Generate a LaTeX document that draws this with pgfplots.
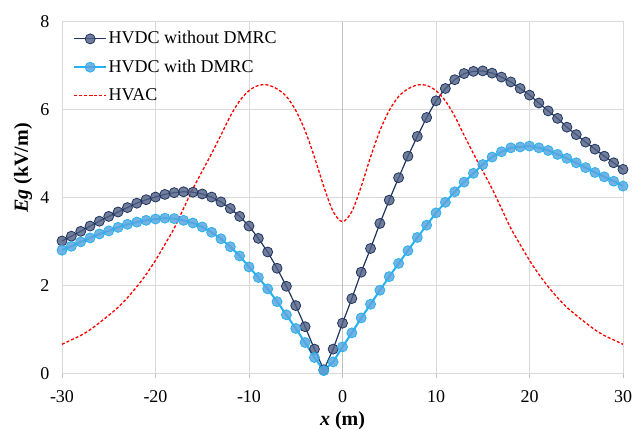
\documentclass[border=0pt]{standalone}
\usepackage{pgfplots}
\pgfplotsset{compat=1.18}
\usepackage{fontspec}
\setmainfont{Liberation Serif}
\definecolor{navyline}{RGB}{31,52,96}
\definecolor{navyfill}{RGB}{78,94,130}
\definecolor{skyline}{RGB}{38,178,240}
\definecolor{skyfill}{RGB}{92,166,222}
\definecolor{gridc}{RGB}{217,217,217}
\definecolor{axisc}{RGB}{191,191,191}
\begin{document}
\begin{tikzpicture}
\begin{axis}[
  name=ax,
  scale only axis, width=561pt, height=351.6pt,
  xmin=-30, xmax=30, ymin=0, ymax=8,
  xtick={-30,-20,...,30}, ytick={0,2,4,6,8},
  grid=major, grid style={draw=gridc, line width=0.9pt},
  axis line style={draw=gridc, line width=0.9pt},
  xtick pos=bottom, ytick pos=left,
  tick align=outside, major tick length=5pt,
  ytick style={draw=none},
  xtick style={draw=axisc, line width=0.9pt},
  extra x ticks={0}, extra x tick labels={},
  extra x tick style={grid style={draw=axisc, line width=1pt}, major tick length=0pt},
  ticklabel style={font=\fontsize{18}{18}\selectfont, text=black},
  /pgf/number format/assume math mode=true,
  xticklabel style={yshift=-9pt},
  yticklabel style={xshift=-4pt},
  every axis y label/.style={at={(rel axis cs:0,0.584)}, xshift=-39pt, rotate=90, anchor=center, font=\fontsize{20}{20}\selectfont},
  every axis x label/.style={at={(rel axis cs:0.5,0)}, anchor=center, yshift=-47pt, font=\fontsize{20}{20}\selectfont},
  ylabel={\textbf{\textit{Eg} (kV/m)}},
  xlabel={\textbf{\textit{x} (m)}},
  legend image code/.code={\draw[mark repeat=2,mark phase=2] plot coordinates {(0pt,0pt) (16pt,0pt) (32pt,0pt)};},
  legend style={draw=none, fill=none, at={(rel axis cs:0,1)}, anchor=north west, xshift=8pt, yshift=-8pt,
    font=\fontsize{18}{18}\selectfont, row sep=14.3pt, column sep=1.5pt,
    nodes={inner sep=0pt, text height=12pt, text depth=2pt}},
  legend cell align=left,
]
\addplot[navyline, line width=1.2pt, mark=*, mark size=5pt,
  mark options={fill=navyfill, fill opacity=0.8, draw=navyline, line width=0.8pt}] coordinates {
(-30,3.01) (-29,3.12) (-28,3.23) (-27,3.35) (-26,3.46) (-25,3.57) (-24,3.67) (-23,3.77) (-22,3.87) (-21,3.95)
(-20,4.01) (-19,4.07) (-18,4.11) (-17,4.13) (-16,4.12) (-15,4.08) (-14,4.01) (-13,3.90) (-12,3.75) (-11,3.57)
(-10,3.35) (-9,3.07) (-8,2.76) (-7,2.39) (-6,1.98) (-5,1.54) (-4,1.06) (-3,0.55) (-2,0.08) (-1,0.55)
(0,1.14) (1,1.70) (2,2.30) (3,2.84) (4,3.41) (5,3.94) (6,4.45) (7,4.94) (8,5.39) (9,5.82)
(10,6.20) (11,6.48) (12,6.68) (13,6.82) (14,6.87) (15,6.88) (16,6.83) (17,6.74) (18,6.63) (19,6.48)
(20,6.33) (21,6.15) (22,5.97) (23,5.80) (24,5.60) (25,5.43) (26,5.26) (27,5.10) (28,4.94) (29,4.79) (30,4.64)};
\addlegendentry{HVDC without DMRC}
\addplot[skyline, line width=2pt, mark=*, mark size=5pt,
  mark options={fill=skyfill, fill opacity=0.85, draw=skyline, line width=0.8pt}] coordinates {
(-30,2.80) (-29,2.89) (-28,2.99) (-27,3.08) (-26,3.17) (-25,3.24) (-24,3.32) (-23,3.39) (-22,3.44) (-21,3.48)
(-20,3.51) (-19,3.53) (-18,3.52) (-17,3.48) (-16,3.42) (-15,3.33) (-14,3.21) (-13,3.06) (-12,2.88) (-11,2.67)
(-10,2.42) (-9,2.18) (-8,1.92) (-7,1.63) (-6,1.33) (-5,1.02) (-4,0.70) (-3,0.36) (-2,0.06) (-1,0.26)
(0,0.60) (1,0.92) (2,1.26) (3,1.57) (4,1.89) (5,2.20) (6,2.50) (7,2.79) (8,3.09) (9,3.37)
(10,3.65) (11,3.89) (12,4.13) (13,4.35) (14,4.55) (15,4.75) (16,4.92) (17,5.04) (18,5.13) (19,5.15)
(20,5.17) (21,5.13) (22,5.07) (23,4.98) (24,4.89) (25,4.79) (26,4.68) (27,4.57) (28,4.47) (29,4.37) (30,4.26)};
\addlegendentry{HVDC with DMRC}
\addplot[red, line width=1.3pt, dash pattern=on 3pt off 2pt, smooth, no marks] coordinates {
(-30,0.66) (-29,0.76) (-28,0.86) (-27,0.99) (-26,1.15) (-25,1.32) (-24,1.50) (-23,1.72) (-22,1.97) (-21,2.25)
(-20,2.57) (-19,2.93) (-18,3.30) (-17,3.75) (-16,4.20) (-15,4.60) (-14,5.00) (-13,5.42) (-12,5.85) (-11,6.20)
(-10,6.43) (-9,6.55) (-8,6.56) (-7,6.47) (-6,6.30) (-5,5.98) (-4,5.52) (-3,4.92) (-2,4.25) (-1,3.68)
(0,3.45) (1,3.68) (2,4.25) (3,4.92) (4,5.52) (5,5.98) (6,6.30) (7,6.47) (8,6.56) (9,6.55)
(10,6.43) (11,6.20) (12,5.85) (13,5.42) (14,5.00) (15,4.60) (16,4.20) (17,3.75) (18,3.30) (19,2.93)
(20,2.57) (21,2.25) (22,1.97) (23,1.72) (24,1.50) (25,1.32) (26,1.15) (27,0.99) (28,0.86) (29,0.76) (30,0.66)};
\addlegendentry{HVAC}
\end{axis}
\pgfresetboundingbox
\path[use as bounding box] ([xshift=-62pt,yshift=-56.7pt]ax.south west) rectangle ([xshift=12pt,yshift=21.7pt]ax.north east);
\end{tikzpicture}
\end{document}
